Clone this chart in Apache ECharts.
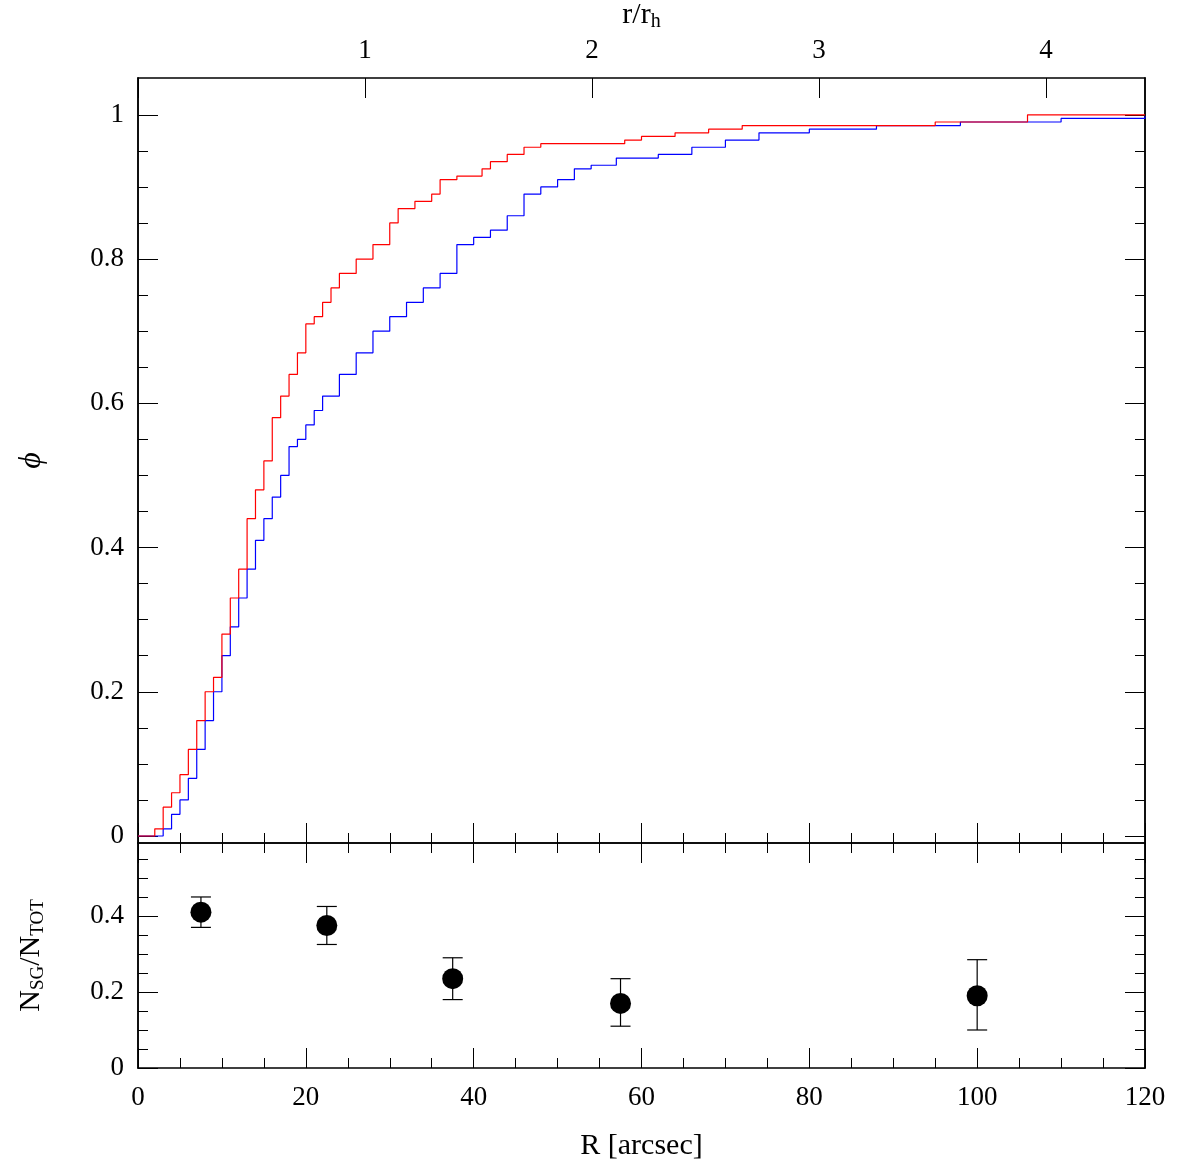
<!DOCTYPE html>
<html>
<head>
<meta charset="utf-8">
<script src="https://cdn.jsdelivr.net/npm/echarts@6/dist/echarts.min.js"></script>
<style>html,body{margin:0;background:#fff}#main{width:1185px;height:1168px}</style>
</head>
<body>
<div id="main"></div>
<script>
// cumulative distributions, [R arcsec, phi]
const redCum = [[0,0],[2,0.01],[3,0.04],[4,0.06],[5,0.085],[6,0.12],[7,0.16],[8,0.2],[9,0.22],[10,0.28],[11,0.33],[12,0.37],[13,0.44],[14,0.48],[15,0.52],[16,0.58],[17,0.61],[18,0.64],[19,0.67],[20,0.71],[21,0.72],[22,0.74],[23,0.76],[24,0.78],[26,0.8],[28,0.82],[30,0.85],[31,0.87],[33,0.88],[35,0.89],[36,0.91],[38,0.915],[41,0.925],[42,0.935],[44,0.945],[46,0.955],[48,0.96],[58,0.965],[60,0.97],[64,0.975],[68,0.98],[72,0.985],[85,0.985],[95,0.99],[106,1.0],[120,1.0]];
const blueCum = [[0,0],[2,0],[3,0.01],[4,0.03],[5,0.05],[6,0.08],[7,0.12],[8,0.16],[9,0.2],[10,0.25],[11,0.29],[12,0.33],[13,0.37],[14,0.41],[15,0.44],[16,0.47],[17,0.5],[18,0.54],[19,0.55],[20,0.57],[21,0.59],[22,0.61],[24,0.64],[26,0.67],[28,0.7],[30,0.72],[32,0.74],[34,0.76],[36,0.78],[38,0.82],[40,0.83],[42,0.84],[44,0.86],[46,0.89],[48,0.9],[50,0.91],[52,0.925],[54,0.93],[57,0.94],[62,0.945],[66,0.955],[70,0.965],[74,0.975],[80,0.98],[88,0.985],[98,0.99],[110,0.995],[120,0.998]];

// ratio panel
const binR = [7.5, 22.5, 37.5, 57.5, 100];
const ratio = [0.41, 0.375, 0.235, 0.17, 0.19];
const ratioLo = [0.37, 0.325, 0.18, 0.11, 0.1];
const ratioHi = [0.45, 0.425, 0.29, 0.235, 0.285];

const topMajor = [0, 0.2, 0.4, 0.6, 0.8, 1];
const topMinor = [];
for (let v = 0; v <= 1.05; v += 0.05) topMinor.push(+v.toFixed(2));
const botMajor = [0, 0.2, 0.4];
const botMinor = [];
for (let v = 0; v <= 0.59; v += 0.05) botMinor.push(+v.toFixed(2));
const rScale = 27.05; // arcsec per r_h

const font = 'Liberation Serif';
const black = '#000';

function yAx(grid, pos, min, max, vals, len, labels, extra) {
  return Object.assign({
    type: 'value', gridIndex: grid, position: pos, min: min, max: max,
    axisLine: {show: true, onZero: false, lineStyle: {color: black, width: 1.5}},
    axisTick: {show: true, inside: true, length: len, customValues: vals, lineStyle: {color: black}},
    axisLabel: {show: labels, customValues: vals, fontFamily: font, fontSize: 27, color: black, margin: 14},
    splitLine: {show: false}
  }, extra || {});
}

function xAx(grid, pos, labels, extra) {
  return Object.assign({
    type: 'value', gridIndex: grid, position: pos, min: 0, max: 120, interval: 20,
    axisLine: {show: true, onZero: false, lineStyle: {color: black, width: 1.5}},
    axisTick: {show: true, inside: true, length: 20, lineStyle: {color: black}},
    minorTick: {show: true, splitNumber: 4, length: 10, lineStyle: {color: black}},
    axisLabel: {show: labels, fontFamily: font, fontSize: 27, color: black, margin: 16},
    splitLine: {show: false}
  }, extra || {});
}

const yTopMin = -0.0097, yTopMax = 1.051, yBotMax = 0.592;

let myChart = echarts.init(document.getElementById('main'));
let option = {
  backgroundColor: '#fff',
  animation: false,
  grid: [
    {left: 138, right: 40, top: 78, bottom: 325, outerBoundsMode: 'none', containLabel: false},
    {left: 138, right: 40, top: 843, bottom: 100, outerBoundsMode: 'none', containLabel: false}
  ],
  xAxis: [
    xAx(0, 'bottom', false),
    xAx(1, 'bottom', true, {name: 'R [arcsec]', nameLocation: 'middle', nameGap: 63,
      nameTextStyle: {fontFamily: font, fontSize: 30, color: black}}),
    xAx(1, 'top', false),
    {
      type: 'value', gridIndex: 0, position: 'top', min: 0, max: 120 / rScale, interval: 1,
      axisLine: {show: true, onZero: false, lineStyle: {color: black, width: 1.5}},
      axisTick: {show: true, inside: true, length: 20, lineStyle: {color: black}},
      axisLabel: {fontFamily: font, fontSize: 27, color: black, margin: 14,
        formatter: v => (v === 0 ? '' : v)},
      splitLine: {show: false},
      name: '{n|r/r}{s|h}', nameLocation: 'middle', nameGap: 42,
      nameTextStyle: {rich: {
        n: {fontFamily: font, fontSize: 30, color: black},
        s: {fontFamily: font, fontSize: 20, color: black, padding: [14, 0, 0, 0]}
      }}
    }
  ],
  yAxis: [
    yAx(0, 'left', yTopMin, yTopMax, topMajor, 20, true, {name: 'ϕ', nameLocation: 'middle', nameGap: 90, nameRotate: 90,
      nameTextStyle: {fontFamily: font, fontSize: 32, fontStyle: 'italic', color: black}}),
    yAx(0, 'left', yTopMin, yTopMax, topMinor, 10, false),
    yAx(0, 'right', yTopMin, yTopMax, topMajor, 20, false),
    yAx(0, 'right', yTopMin, yTopMax, topMinor, 10, false),
    yAx(1, 'left', 0, yBotMax, botMajor, 20, true, {
      name: '{n|N}{s|SG}{n|/N}{s|TOT}', nameLocation: 'middle', nameGap: 90, nameRotate: 90,
      nameTextStyle: {rich: {
        n: {fontFamily: font, fontSize: 30, color: black},
        s: {fontFamily: font, fontSize: 19, color: black, padding: [14, 0, 0, 0]}
      }}}),
    yAx(1, 'left', 0, yBotMax, botMinor, 10, false),
    yAx(1, 'right', 0, yBotMax, botMajor, 20, false),
    yAx(1, 'right', 0, yBotMax, botMinor, 10, false)
  ],
  series: [
    {type: 'line', xAxisIndex: 0, yAxisIndex: 0, step: 'end', data: blueCum, showSymbol: false,
      lineStyle: {color: '#0000ff', width: 1.2}},
    {type: 'line', xAxisIndex: 0, yAxisIndex: 0, step: 'end', data: redCum, showSymbol: false,
      lineStyle: {color: '#ff0000', width: 1.2}},
    {type: 'custom', xAxisIndex: 1, yAxisIndex: 4,
      data: binR.map((r, i) => [r, ratioLo[i], ratioHi[i]]),
      renderItem: function (params, api) {
        const lo = api.coord([api.value(0), api.value(1)]);
        const hi = api.coord([api.value(0), api.value(2)]);
        const w = 10;
        const st = {stroke: black, lineWidth: 1.2};
        return {type: 'group', children: [
          {type: 'line', shape: {x1: lo[0], y1: lo[1], x2: hi[0], y2: hi[1]}, style: st},
          {type: 'line', shape: {x1: lo[0] - w, y1: lo[1], x2: lo[0] + w, y2: lo[1]}, style: st},
          {type: 'line', shape: {x1: hi[0] - w, y1: hi[1], x2: hi[0] + w, y2: hi[1]}, style: st}
        ]};
      }},
    {type: 'scatter', xAxisIndex: 1, yAxisIndex: 4, symbolSize: 21,
      data: binR.map((r, i) => [r, ratio[i]]), itemStyle: {color: black, opacity: 1}}
  ]
};
myChart.setOption(option);
</script>
</body>
</html>
